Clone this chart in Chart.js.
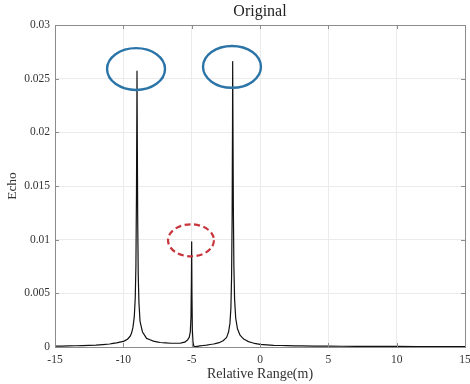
<!DOCTYPE html>
<html>
<head>
<meta charset="utf-8">
<script src="https://cdn.jsdelivr.net/npm/chart.js@4/dist/chart.umd.min.js"></script>
<style>
html,body{margin:0;padding:0;background:#fff;}
canvas{display:block;}
</style>
</head>
<body>
<canvas id="c" width="470" height="384"></canvas>
<script>
// ---- data ----
const rangeM = [-15,-14,-13,-12,-11,-10.5,-10,-9.7,-9.5,-9.4,-9.3,-9.2,-9.13,-9.08,-9.04,-9.01,-9.0,-8.98,-8.95,-8.91,-8.86,-8.78,-8.6,-8.3,-7.8,-7.3,-6.5,-5.85,-5.5,-5.3,-5.18,-5.1,-5.05,-5.02,-5.0,-4.98,-4.95,-4.9,-4.83,-4.76,-4.4,-3.9,-3.4,-3.0,-2.7,-2.44,-2.3,-2.2,-2.13,-2.08,-2.04,-2.01,-2.0,-1.98,-1.95,-1.91,-1.86,-1.78,-1.65,-1.46,-1.2,-0.85,-0.4,0,1,2,3,5,7,10,13,15];
const echo = [0.00008,0.0001,0.00013,0.00018,0.00028,0.00038,0.00052,0.00072,0.001,0.0013,0.0018,0.0028,0.0045,0.0075,0.014,0.022,0.0257,0.02,0.012,0.0068,0.0042,0.0024,0.0014,0.0008,0.00055,0.00042,0.00035,0.00035,0.00045,0.00065,0.0009,0.0014,0.0028,0.006,0.0098,0.005,0.0016,0.0004,0.00005,0.00003,0.0001,0.00018,0.00028,0.0004,0.00058,0.0009,0.0014,0.0022,0.0036,0.0065,0.012,0.021,0.0266,0.021,0.013,0.0075,0.0045,0.0027,0.0017,0.0011,0.00075,0.0005,0.00033,0.00025,0.00016,0.00012,0.0001,0.00008,0.00006,0.00005,0.00004,0.00003];
const xTickLabels = ['-15','-10','-5','0','5','10','15'];
const yTickLabels = ['0','0.005','0.01','0.015','0.02','0.025','0.03'];
const chartTitle = 'Original';
// highlighted peaks (centre in data units, radii in data units)
const markX  = [-9.07, -2.05, -5.05];
const markY  = [0.0259, 0.0261, 0.00994];
const markRX = [2.12, 2.12, 1.68];
const markRY = [0.00195, 0.00195, 0.00149];
const markKind = ['solid', 'solid', 'dashed'];

const points = rangeM.map((x, i) => ({x: x, y: echo[i]}));
const FONT = "'Liberation Serif', 'Times New Roman', serif";
const AXIS = '#8c8c8c';

const framePlugin = {
  id: 'frame',
  afterDraw(chart) {
    const {ctx, chartArea: a, scales} = chart;
    ctx.save();
    ctx.strokeStyle = AXIS;
    ctx.lineWidth = 1;
    const tl = 4;
    ctx.beginPath();
    scales.x.ticks.forEach(t => {
      const px = Math.round(scales.x.getPixelForValue(t.value)) + 0.5;
      ctx.moveTo(px, a.bottom); ctx.lineTo(px, a.bottom - tl);
      ctx.moveTo(px, a.top); ctx.lineTo(px, a.top + tl);
    });
    scales.y.ticks.forEach(t => {
      const py = Math.round(scales.y.getPixelForValue(t.value)) + 0.5;
      ctx.moveTo(a.left, py); ctx.lineTo(a.left + tl, py);
      ctx.moveTo(a.right, py); ctx.lineTo(a.right - tl, py);
    });
    ctx.stroke();
    ctx.strokeRect(Math.round(a.left) + 0.5, Math.round(a.top) + 0.5,
                   Math.round(a.right - a.left), Math.round(a.bottom - a.top));
    // title centred over the plot area
    ctx.fillStyle = '#222';
    ctx.font = "16px " + FONT;
    ctx.textAlign = 'center';
    ctx.textBaseline = 'middle';
    ctx.fillText(chartTitle, (a.left + a.right) / 2, 12);
    ctx.restore();
  }
};

const ellipsePlugin = {
  id: 'marks',
  afterDatasetsDraw(chart) {
    const {ctx, scales} = chart;
    ctx.save();
    markX.forEach((mx, i) => {
      const cx = scales.x.getPixelForValue(mx);
      const cy = scales.y.getPixelForValue(markY[i]);
      const rx = Math.abs(scales.x.getPixelForValue(mx + markRX[i]) - cx);
      const ry = Math.abs(scales.y.getPixelForValue(markY[i] + markRY[i]) - cy);
      ctx.beginPath();
      ctx.ellipse(cx, cy, rx, ry, 0, 0, Math.PI * 2);
      if (markKind[i] === 'dashed') {
        ctx.strokeStyle = '#c8343c';
        ctx.lineWidth = 2.2;
        ctx.setLineDash([6, 3.5]);
      } else {
        ctx.strokeStyle = '#2a74a8';
        ctx.lineWidth = 2.4;
        ctx.setLineDash([]);
      }
      ctx.stroke();
    });
    ctx.restore();
  }
};

new Chart(document.getElementById('c'), {
  type: 'line',
  data: {
    datasets: [{
      data: points,
      borderColor: '#111111',
      borderWidth: 1.2,
      borderJoinStyle: 'round',
      borderCapStyle: 'round',
      pointRadius: 0,
      tension: 0.0001,
      fill: false
    }]
  },
  options: {
    responsive: false,
    animation: false,
    devicePixelRatio: 1,
    layout: {padding: {left: 0, right: 5, top: 25, bottom: 0}},
    plugins: {
      legend: {display: false},
      tooltip: {enabled: false},
      title: {display: false}
    },
    scales: {
      x: {
        type: 'linear',
        min: -15, max: 15,
        afterFit(s) { s.height = 37; s.paddingLeft = 0; s.paddingRight = 0; },
        ticks: {
          stepSize: 5,
          color: '#333',
          font: {family: FONT, size: 11.5},
          padding: 6,
          maxRotation: 0,
          callback: (v, i) => xTickLabels[i]
        },
        grid: {color: '#ebebeb', drawTicks: false},
        border: {display: false},
        title: {
          display: true,
          text: 'Relative Range(m)',
          color: '#333',
          font: {family: FONT, size: 14},
          padding: {top: 0, bottom: 1}
        }
      },
      y: {
        type: 'linear',
        min: 0, max: 0.03,
        afterFit(s) { s.width = 55; s.paddingTop = 0; s.paddingBottom = 0; },
        ticks: {
          stepSize: 0.005,
          color: '#333',
          font: {family: FONT, size: 11.5},
          padding: 5,
          callback: (v, i) => yTickLabels[i]
        },
        grid: {color: '#ebebeb', drawTicks: false},
        border: {display: false},
        title: {
          display: true,
          text: 'Echo',
          color: '#333',
          font: {family: FONT, size: 13.5},
          padding: {top: 4, bottom: 0}
        }
      }
    }
  },
  plugins: [ellipsePlugin, framePlugin]
});
</script>
</body>
</html>
